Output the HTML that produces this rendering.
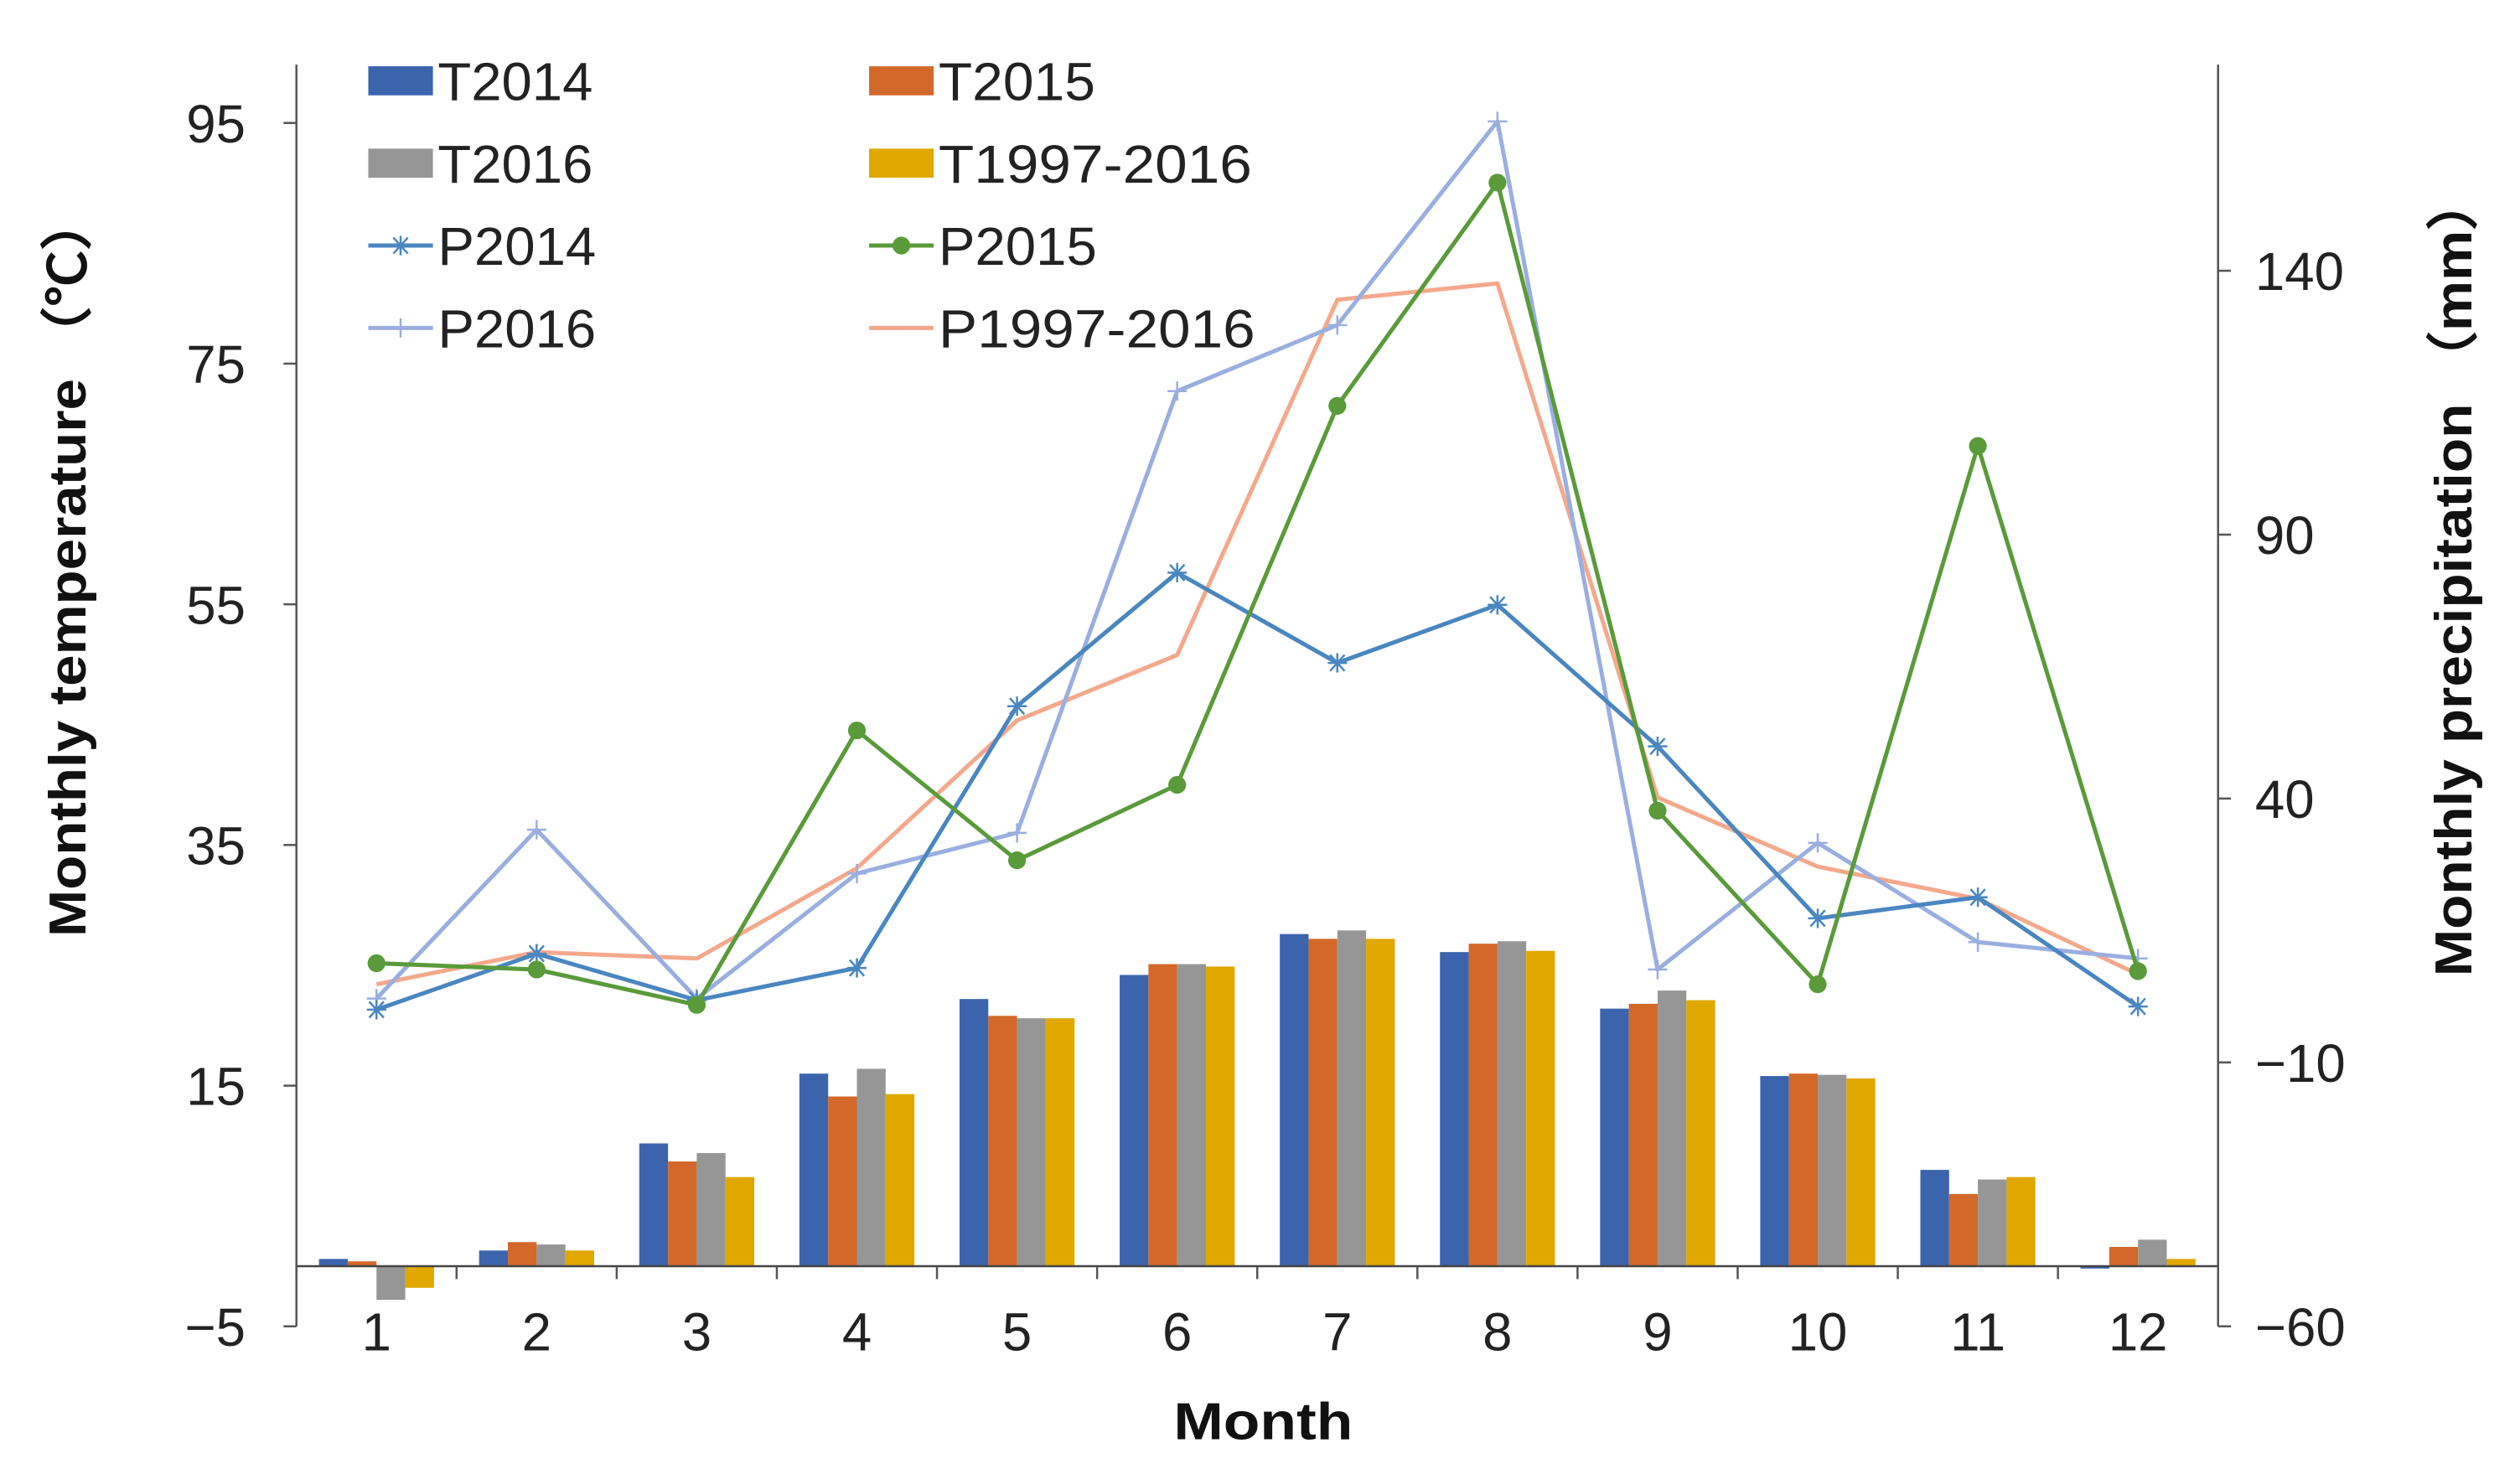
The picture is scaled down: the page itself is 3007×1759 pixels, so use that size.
<!DOCTYPE html>
<html><head><meta charset="utf-8">
<style>
html,body{margin:0;padding:0;background:#fff;}
svg{display:block;font-family:"Liberation Sans",sans-serif;}
</style></head>
<body>
<svg id="chart" width="3007" height="1759" viewBox="0 0 1560 912.5" xmlns="http://www.w3.org/2000/svg">
<g id="bars"></g>
<g id="axes"></g>
<g id="lines"></g>
<g id="legend"></g>
<text transform="translate(53,350) rotate(-90)" text-anchor="middle" font-size="32" font-weight="bold" fill="#111" textLength="460" lengthAdjust="spacingAndGlyphs">Monthly temperature （℃）</text>
<text transform="translate(1530,356) rotate(-90)" text-anchor="middle" font-size="32" font-weight="bold" fill="#111" textLength="497" lengthAdjust="spacingAndGlyphs">Monthly precipitation （mm）</text>
<text x="782" y="891" text-anchor="middle" font-size="32" font-weight="bold" fill="#111" textLength="111" lengthAdjust="spacingAndGlyphs">Month</text>
</svg>
<script>
const months = [1,2,3,4,5,6,7,8,9,10,11,12];
const T2014 = [0.6,1.3,10.2,16.0,22.2,24.2,27.6,26.1,21.4,15.8,8.0,-0.2];
const T2015 = [0.4,2.0,8.7,14.1,20.8,25.1,27.2,26.8,21.8,16.0,6.0,1.6];
const T2016 = [-2.8,1.8,9.4,16.4,20.6,25.1,27.9,27.0,22.9,15.9,7.2,2.2];
const T1997 = [-1.8,1.3,7.4,14.3,20.6,24.9,27.2,26.2,22.1,15.6,7.4,0.6];
const P2014 = [0,10.6,1.8,7.9,57.5,82.8,65.7,76.7,49.9,17.3,21.3,0.6];
const P2015 = [8.8,7.6,0.9,52.9,28.3,42.6,114.4,156.7,37.7,4.8,106.8,7.3];
const P2016 = [2.1,34.1,2.1,25.8,33.5,117.2,129.7,168.3,7.6,31.6,12.8,9.7];
const P1997 = [4.8,10.9,9.7,26.8,54.8,67.2,134.5,137.6,40.2,27.1,21.0,6.7];
const leftTicks = [-5,15,35,55,75,95];
const rightTicks = [-60,-10,40,90,140];

const NS='http://www.w3.org/2000/svg';
const X0=183.5, X1=1373.1;
const cw=(X1-X0)/12;
const xc=i=>X0+cw*(i+0.5);
const yT=v=>821.1-(v+5)*7.45;
const yP=v=>821.1-(v+60)*3.2675;
function mk(tag,attrs,parent){const e=document.createElementNS(NS,tag);for(const k in attrs)e.setAttribute(k,attrs[k]);parent.appendChild(e);return e;}
const gB=document.getElementById('bars'),gA=document.getElementById('axes'),gL=document.getElementById('lines'),gG=document.getElementById('legend');

const barSeries=[[T2014,'#3c64ad','t2014'],[T2015,'#d2692a','t2015'],[T2016,'#969696','t2016'],[T1997,'#e0a800','t1997-2016']];
const bw=17.8;
barSeries.forEach((s,si)=>{
  s[0].forEach((v,i)=>{
    const x=xc(i)-2*bw+si*bw;
    const y0=yT(0),y1=yT(v);
    const r=mk('rect',{x:x,y:Math.min(y0,y1),width:bw,height:Math.max(0.8,Math.abs(y1-y0)),fill:s[1]},gB);
    
    
  });
});

mk('line',{x1:X0,y1:40,x2:X0,y2:821.1,stroke:'#555','stroke-width':1.3},gA);
mk('line',{x1:X1,y1:40,x2:X1,y2:821.1,stroke:'#555','stroke-width':1.3},gA);
mk('line',{x1:X0,y1:yT(0),x2:X1,y2:yT(0),stroke:'#444','stroke-width':1.3},gA);
leftTicks.forEach(v=>{
  mk('line',{x1:X0-8,y1:yT(v),x2:X0,y2:yT(v),stroke:'#555','stroke-width':1.3},gA);
  const t=mk('text',{x:152,y:yT(v)+12,'text-anchor':'end','font-size':33,fill:'#222'},gA);
  t.textContent=(v<0?'\u2212'+(-v):String(v));
  
  
});
rightTicks.forEach(v=>{
  mk('line',{x1:X1,y1:yP(v),x2:X1+8,y2:yP(v),stroke:'#555','stroke-width':1.3},gA);
  const t=mk('text',{x:1396,y:yP(v)+12,'text-anchor':'start','font-size':33,fill:'#222'},gA);
  t.textContent=(v<0?'\u2212'+(-v):String(v));
  
  
});
for(let i=0;i<=12;i++){
  mk('line',{x1:X0+cw*i,y1:yT(0),x2:X0+cw*i,y2:yT(0)+8,stroke:'#555','stroke-width':1.3},gA);
}
months.forEach((m,i)=>{
  const t=mk('text',{x:xc(i),y:836,'text-anchor':'middle','font-size':33,fill:'#222'},gA);
  t.textContent=String(m);
  
  
});

function marker(type,x,y,color,g){
  if(type==='star'){
    mk('path',{d:`M${x-6} ${y}H${x+6}M${x-4.5} ${y-5}L${x+4.5} ${y+5}M${x-4.5} ${y+5}L${x+4.5} ${y-5}M${x} ${y-6}V${y+6}`,stroke:color,'stroke-width':1.3,fill:'none'},g);
  }else if(type==='dot'){
    mk('circle',{cx:x,cy:y,r:5.5,fill:color},g);
  }else if(type==='plus'){
    mk('path',{d:`M${x-6} ${y}H${x+6}M${x} ${y-6}V${y+6}`,stroke:color,'stroke-width':1.3,fill:'none'},g);
  }
}
const lineSeries=[[P1997,'#f4a88c','none','p1997-2016'],[P2016,'#9aaee0','plus','p2016'],[P2014,'#4a86c0','star','p2014'],[P2015,'#5a9a3a','dot','p2015']];
lineSeries.forEach(s=>{
  const pts=s[0].map((v,i)=>xc(i)+','+yP(v)).join(' ');
  const pl=mk('polyline',{points:pts,fill:'none',stroke:s[1],'stroke-width':2.6,'stroke-linejoin':'round'},gL);
  
  
  s[0].forEach((v,i)=>marker(s[2],xc(i),yP(v),s[1],gL));
});

const legendItems=[
 ['T2014','rect','#3c64ad',0,0,96],['T2015','rect','#d2692a',1,0,97],
 ['T2016','rect','#969696',0,1,96],['T1997-2016','rect','#e0a800',1,1,194],
 ['P2014','star','#4a86c0',0,2,98],['P2015','dot','#5a9a3a',1,2,98],
 ['P2016','plus','#9aaee0',0,3,98],['P1997-2016','none','#f4a88c',1,3,196]];
legendItems.forEach(it=>{
  const x=it[3]?538:228, y=50+it[4]*51;
  const g=mk('g',{},gG);
  
  
  if(it[1]==='rect'){mk('rect',{x:x,y:y-9,width:40,height:18,fill:it[2]},g);}
  else{mk('line',{x1:x,y1:y,x2:x+40,y2:y,stroke:it[2],'stroke-width':2.6},g);marker(it[1],x+20,y,it[2],g);}
  const t=mk('text',{x:x+43,y:y+12,'font-size':33,fill:'#222',textLength:it[5],lengthAdjust:'spacingAndGlyphs'},g);
  t.textContent=it[0];
});
</script>
</body></html>
